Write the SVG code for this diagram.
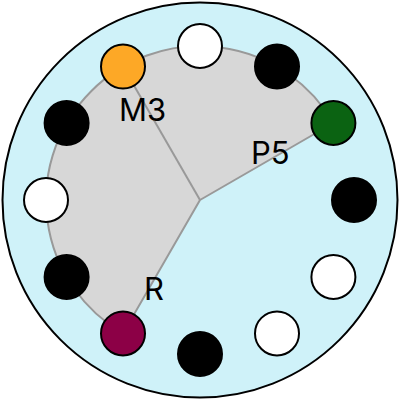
<svg xmlns="http://www.w3.org/2000/svg" width="400" height="400" viewBox="0 0 400 400">
<style>
.dot{stroke:#000;stroke-width:2}
.lbl{font-family:Inter,Roboto,"Liberation Sans",Arial,sans-serif;font-size:31px;fill:#000}
.edge{stroke:#999;stroke-width:2;fill:none}
</style>
<circle cx="200" cy="200" r="197.5" fill="#cff2f9" stroke="#000" stroke-width="2"/>
<path d="M200,200 L333.4,123 A154,154 0 1 0 123,333.4 Z" fill="#d7d7d7" stroke="#999" stroke-width="2"/>
<g id="connectors">
<line class="edge" x1="200" y1="200" x2="123" y2="66.6"/>
</g>
<g id="n0"><circle class="dot" cx="200" cy="46" r="22" fill="#fff"/></g>
<g id="n1"><circle class="dot" cx="277" cy="66.6" r="22" fill="#000"/></g>
<g id="n2"><circle class="dot" cx="333.4" cy="123" r="22" fill="#0b6312"/></g>
<g id="n3"><circle class="dot" cx="354" cy="200" r="22" fill="#000"/></g>
<g id="n4"><circle class="dot" cx="333.4" cy="277" r="22" fill="#fff"/></g>
<g id="n5"><circle class="dot" cx="277" cy="333.4" r="22" fill="#fff"/></g>
<g id="n6"><circle class="dot" cx="200" cy="354" r="22" fill="#000"/></g>
<g id="n7"><circle class="dot" cx="123" cy="333.4" r="22" fill="#8c0046"/></g>
<g id="n8"><circle class="dot" cx="66.6" cy="277" r="22" fill="#000"/></g>
<g id="n9"><circle class="dot" cx="46" cy="200" r="22" fill="#fff"/></g>
<g id="n10"><circle class="dot" cx="66.6" cy="123" r="22" fill="#000"/></g>
<g id="n11"><circle class="dot" cx="123" cy="66.6" r="22" fill="#fda826"/></g>
<g id="labels">
<text class="lbl" x="119" y="121">M3</text>
<text class="lbl" x="251" y="164">P5</text>
<text class="lbl" x="144" y="300">R</text>
</g>
</svg>
